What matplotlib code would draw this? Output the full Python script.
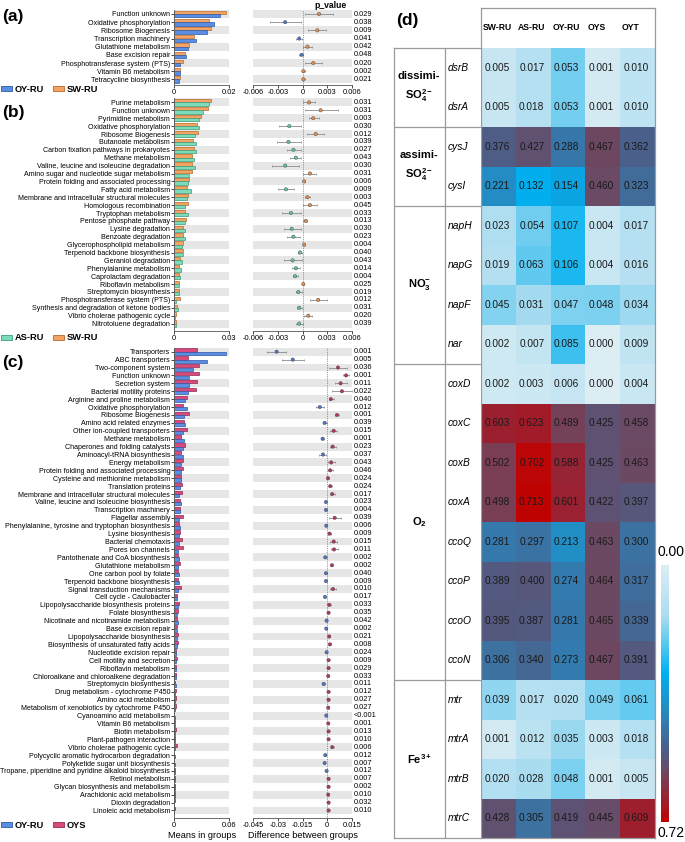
import numpy as np
import matplotlib
matplotlib.use("Agg")
import matplotlib.pyplot as plt
from matplotlib.patches import Patch
from matplotlib.colors import LinearSegmentedColormap, PowerNorm

plt.rcParams['font.family'] = ['Liberation Sans', 'DejaVu Sans']
plt.rcParams['mathtext.fontset'] = 'custom'
plt.rcParams['mathtext.rm'] = 'Liberation Sans'
plt.rcParams['mathtext.it'] = 'Liberation Sans:italic'
plt.rcParams['mathtext.bf'] = 'Liberation Sans:bold'

# ---------------- panel (a): SW-RU vs OY-RU ----------------
a_terms = ["Function unknown", "Oxidative phosphorylation", "Ribosome Biogenesis",
           "Transcription machinery", "Glutathione metabolism", "Base excision repair",
           "Phosphotransferase system (PTS)", "Vitamin B6 metabolism", "Tetracycline biosynthesis"]
a_sw = [0.0187, 0.0125, 0.0135, 0.0073, 0.0052, 0.0040, 0.0033, 0.0019, 0.0019]
a_oy = [0.0165, 0.0145, 0.0118, 0.0078, 0.0048, 0.0041, 0.0021, 0.0019, 0.0017]
a_diff = [0.0020, -0.0021, 0.0018, -0.0004, 0.0006, -0.0001, 0.0013, 0.0001, 0.0001]
a_lo = [0.0003, -0.0039, 0.0007, -0.0008, 0.0001, -0.0004, 0.0003, -0.0001, -0.0001]
a_hi = [0.0037, -0.0002, 0.0029, -0.0001, 0.0012, 0.0001, 0.0024, 0.0003, 0.0003]
a_p = ["0.029", "0.038", "0.009", "0.041", "0.042", "0.048", "0.020", "0.002", "0.021"]

# ---------------- panel (b): SW-RU vs AS-RU ----------------
b_terms = ["Purine metabolism", "Function unknown", "Pyrimidine metabolism",
           "Oxidative phosphorylation", "Ribosome Biogenesis", "Butanoate metabolism",
           "Carbon fixation pathways in prokaryotes", "Methane metabolism",
           "Valine, leucine and isoleucine degradation", "Amino sugar and nucleotide sugar metabolism",
           "Protein folding and associated processing", "Fatty acid metabolism",
           "Membrane and intracellular structural molecules", "Homologous recombination",
           "Tryptophan metabolism", "Pentose phosphate pathway", "Lysine degradation",
           "Benzoate degradation", "Glycerophospholipid metabolism", "Terpenoid backbone biosynthesis",
           "Geraniol degradation", "Phenylalanine metabolism", "Caprolactam degradation",
           "Riboflavin metabolism", "Streptomycin biosynthesis", "Phosphotransferase system (PTS)",
           "Synthesis and degradation of ketone bodies", "Vibrio cholerae pathogenic cycle",
           "Nitrotoluene degradation"]
b_sw = [0.0202, 0.0182, 0.0147, 0.0122, 0.0129, 0.0100, 0.0105, 0.0098, 0.0095, 0.0095,
        0.0078, 0.0071, 0.0073, 0.0073, 0.0060, 0.0062, 0.0049, 0.0047, 0.0045, 0.0045,
        0.0033, 0.0027, 0.0024, 0.0025, 0.0025, 0.0029, 0.0015, 0.0009, 0.0007]
b_as = [0.0191, 0.0158, 0.0133, 0.0136, 0.0111, 0.0116, 0.0116, 0.0107, 0.0111, 0.0082,
        0.0076, 0.0089, 0.0067, 0.0060, 0.0073, 0.0058, 0.0060, 0.0056, 0.0042, 0.0049,
        0.0044, 0.0036, 0.0029, 0.0024, 0.0025, 0.0007, 0.0018, 0.0005, 0.0007]
b_diff = [0.0008, 0.0022, 0.0013, -0.0016, 0.0016, -0.0017, -0.0011, -0.0008, -0.0021, 0.0009,
          0.0002, -0.0020, 0.0006, 0.0009, -0.0014, 0.0004, -0.0013, -0.0011, 0.0002, -0.0003,
          -0.0012, -0.0008, -0.0009, 0.0001, -0.0005, 0.0019, -0.0004, 0.0007, -0.0004]
b_lo = [0.0001, 0.0003, 0.0008, -0.0029, 0.0005, -0.0031, -0.0019, -0.0015, -0.0037, 0.0001,
        0.0000, -0.0030, 0.0003, 0.0000, -0.0025, 0.0001, -0.0023, -0.0019, 0.0000, -0.0006,
        -0.0023, -0.0013, -0.0012, 0.0000, -0.0008, 0.0009, -0.0007, 0.0002, -0.0008]
b_hi = [0.0015, 0.0043, 0.0020, -0.0002, 0.0026, -0.0002, -0.0002, -0.0002, -0.0004, 0.0016,
        0.0003, -0.0010, 0.0009, 0.0018, -0.0002, 0.0006, -0.0002, -0.0003, 0.0003, -0.0001,
        -0.0001, -0.0003, -0.0005, 0.0002, -0.0001, 0.0030, -0.0001, 0.0012, 0.0000]
b_p = ["0.031", "0.031", "0.003", "0.030", "0.012", "0.039", "0.027", "0.043", "0.030", "0.031",
       "0.006", "0.009", "0.003", "0.045", "0.033", "0.013", "0.030", "0.023", "0.004", "0.040",
       "0.043", "0.014", "0.004", "0.025", "0.019", "0.012", "0.031", "0.020", "0.039"]

# ---------------- panel (c): OYS vs OY-RU ----------------
c_terms = ["Transporters", "ABC transporters", "Two-component system", "Function unknown",
           "Secretion system", "Bacterial motility proteins", "Arginine and proline metabolism",
           "Oxidative phosphorylation", "Ribosome Biogenesis", "Amino acid related enzymes",
           "Other ion-coupled transporters", "Methane metabolism", "Chaperones and folding catalysts",
           "Aminoacyl-tRNA biosynthesis", "Energy metabolism", "Protein folding and associated processing",
           "Cysteine and methionine metabolism", "Translation proteins",
           "Membrane and intracellular structural molecules", "Valine, leucine and isoleucine biosynthesis",
           "Transcription machinery", "Flagellar assembly",
           "Phenylalanine, tyrosine and tryptophan biosynthesis", "Lysine biosynthesis",
           "Bacterial chemotaxis", "Pores ion channels", "Pantothenate and CoA biosynthesis",
           "Glutathione metabolism", "One carbon pool by folate", "Terpenoid backbone biosynthesis",
           "Signal transduction mechanisms", "Cell cycle - Caulobacter",
           "Lipopolysaccharide biosynthesis proteins", "Folate biosynthesis",
           "Nicotinate and nicotinamide metabolism", "Base excision repair",
           "Lipopolysaccharide biosynthesis", "Biosynthesis of unsaturated fatty acids",
           "Nucleotide excision repair", "Cell motility and secretion", "Riboflavin metabolism",
           "Chloroalkane and chloroalkene degradation", "Streptomycin biosynthesis",
           "Drug metabolism - cytochrome P450", "Amino acid metabolism",
           "Metabolism of xenobiotics by cytochrome P450", "Cyanoamino acid metabolism",
           "Vitamin B6 metabolism", "Biotin metabolism", "Plant-pathogen interaction",
           "Vibrio cholerae pathogenic cycle", "Polycyclic aromatic hydrocarbon degradation",
           "Polyketide sugar unit biosynthesis", "Tropane, piperidine and pyridine alkaloid biosynthesis",
           "Retinol metabolism", "Glycan biosynthesis and metabolism", "Arachidonic acid metabolism",
           "Dioxin degradation", "Linoleic acid metabolism"]
c_oys = [0.0251, 0.0145, 0.0265, 0.0265, 0.0244, 0.0233, 0.0135, 0.0091, 0.0164, 0.0105,
         0.0135, 0.0069, 0.0116, 0.0069, 0.0095, 0.0091, 0.0073, 0.0084, 0.0084, 0.0062,
         0.0058, 0.0091, 0.0051, 0.0065, 0.0087, 0.0091, 0.0036, 0.0065, 0.0044, 0.0036,
         0.0069, 0.0025, 0.0051, 0.0036, 0.0033, 0.0029, 0.0036, 0.0036, 0.0018, 0.0025,
         0.0022, 0.0022, 0.0004, 0.0018, 0.0018, 0.0015, 0.0002, 0.0011, 0.0015, 0.0011,
         0.0025, 0.0002, 0.0002, 0.0004, 0.0011, 0.0011, 0.0007, 0.0007, 0.0007]
c_oy = [0.0560, 0.0353, 0.0200, 0.0156, 0.0164, 0.0145, 0.0116, 0.0135, 0.0105, 0.0120,
        0.0095, 0.0102, 0.0091, 0.0091, 0.0069, 0.0073, 0.0069, 0.0065, 0.0055, 0.0069,
        0.0062, 0.0051, 0.0058, 0.0051, 0.0051, 0.0044, 0.0051, 0.0040, 0.0047, 0.0047,
        0.0036, 0.0033, 0.0040, 0.0033, 0.0036, 0.0033, 0.0025, 0.0025, 0.0022, 0.0018,
        0.0015, 0.0015, 0.0018, 0.0011, 0.0011, 0.0007, 0.0011, 0.0007, 0.0007, 0.0004,
        0.0004, 0.0007, 0.0011, 0.0007, 0.0004, 0.0004, 0.0004, 0.0002, 0.0002]
c_diff = [-0.0307, -0.0209, 0.0065, 0.0114, 0.0081, 0.0089, 0.0022, -0.0045, 0.0059, -0.0016,
          0.0039, -0.0028, 0.0033, -0.0026, 0.0024, 0.0018, 0.0004, 0.0018, 0.0030, -0.0008,
          -0.0008, 0.0045, -0.0006, 0.0014, 0.0039, 0.0041, -0.0012, 0.0028, -0.0008, -0.0008,
          0.0035, -0.0014, 0.0012, 0.0008, -0.0004, -0.0006, 0.0012, 0.0016, -0.0004, 0.0008,
          0.0008, 0.0006, -0.0022, 0.0008, 0.0008, 0.0006, -0.0006, 0.0006, 0.0008, 0.0008,
          0.0030, -0.0012, -0.0016, -0.0004, 0.0008, 0.0008, 0.0006, 0.0008, 0.0008]
c_lo = [-0.0364, -0.0272, 0.0010, 0.0093, 0.0047, 0.0030, 0.0008, -0.0067, 0.0049, -0.0028,
        0.0018, -0.0037, 0.0016, -0.0049, 0.0006, 0.0004, -0.0002, 0.0008, 0.0014, -0.0012,
        -0.0012, 0.0008, -0.0010, 0.0004, 0.0018, 0.0020, -0.0020, 0.0022, -0.0012, -0.0012,
        0.0018, -0.0018, 0.0004, 0.0004, -0.0008, -0.0010, 0.0006, 0.0010, -0.0008, 0.0004,
        0.0004, 0.0002, -0.0032, 0.0004, 0.0004, 0.0002, -0.0010, 0.0002, 0.0004, 0.0004,
        0.0020, -0.0016, -0.0020, -0.0008, 0.0004, 0.0004, 0.0002, 0.0004, 0.0004]
c_hi = [-0.0248, -0.0140, 0.0122, 0.0134, 0.0122, 0.0150, 0.0041, -0.0022, 0.0069, -0.0004,
        0.0059, -0.0020, 0.0051, -0.0006, 0.0045, 0.0033, 0.0010, 0.0028, 0.0047, -0.0004,
        -0.0004, 0.0081, -0.0002, 0.0024, 0.0059, 0.0065, -0.0004, 0.0034, -0.0004, -0.0004,
        0.0051, -0.0010, 0.0022, 0.0012, 0.0000, -0.0002, 0.0018, 0.0022, 0.0000, 0.0012,
        0.0012, 0.0010, -0.0012, 0.0012, 0.0012, 0.0010, -0.0002, 0.0010, 0.0012, 0.0012,
        0.0040, -0.0008, -0.0012, 0.0000, 0.0012, 0.0012, 0.0010, 0.0012, 0.0012]
c_p = ["0.001", "0.005", "0.036", "0.001", "0.011", "0.022", "0.040", "0.012", "0.001", "0.039",
       "0.015", "0.001", "0.023", "0.037", "0.043", "0.046", "0.024", "0.024", "0.017", "0.023",
       "0.004", "0.039", "0.006", "0.009", "0.015", "0.011", "0.002", "0.002", "0.040", "0.009",
       "0.010", "0.017", "0.033", "0.035", "0.042", "0.002", "0.021", "0.008", "0.024", "0.009",
       "0.029", "0.033", "0.011", "0.012", "0.027", "0.027", "<0.001", "0.001", "0.013", "0.010",
       "0.006", "0.012", "0.007", "0.012", "0.007", "0.002", "0.010", "0.032", "0.010"]

ab_ticks = [-0.006, -0.003, 0, 0.003, 0.006]
ab_ticklabels = ["-0.006", "-0.003", "0", "0.003", "0.006"]
c_ticks = [-0.045, -0.03, -0.015, 0, 0.015]
c_ticklabels = ["-0.045", "-0.03", "-0.015", "0", "0.015"]

# ---------------- panel (d): heatmap ----------------
hm_cols = ["SW-RU", "AS-RU", "OY-RU", "OYS", "OYT"]
hm_genes = ["dsrB", "dsrA", "cysJ", "cysI", "napH", "napG", "napF", "nar", "coxD", "coxC",
            "coxB", "coxA", "ccoQ", "ccoP", "ccoO", "ccoN", "mtr", "mtrA", "mtrB", "mtrC"]
hm_values = [
    [0.005, 0.017, 0.053, 0.001, 0.010],
    [0.005, 0.018, 0.053, 0.001, 0.010],
    [0.376, 0.427, 0.288, 0.467, 0.362],
    [0.221, 0.132, 0.154, 0.460, 0.323],
    [0.023, 0.054, 0.107, 0.004, 0.017],
    [0.019, 0.063, 0.106, 0.004, 0.016],
    [0.045, 0.031, 0.047, 0.048, 0.034],
    [0.002, 0.007, 0.085, 0.000, 0.009],
    [0.002, 0.003, 0.006, 0.000, 0.004],
    [0.603, 0.623, 0.489, 0.425, 0.458],
    [0.502, 0.702, 0.588, 0.425, 0.463],
    [0.498, 0.713, 0.601, 0.422, 0.397],
    [0.281, 0.297, 0.213, 0.463, 0.300],
    [0.389, 0.400, 0.274, 0.464, 0.317],
    [0.395, 0.387, 0.281, 0.465, 0.339],
    [0.306, 0.340, 0.273, 0.467, 0.391],
    [0.039, 0.017, 0.020, 0.049, 0.061],
    [0.001, 0.012, 0.035, 0.003, 0.018],
    [0.020, 0.028, 0.048, 0.001, 0.005],
    [0.428, 0.305, 0.419, 0.445, 0.609],
]
hm_groups = ["dissimi-\n$\\mathbf{SO_4^{2-}}$", "assimi-\n$\\mathbf{SO_4^{2-}}$",
             "$\\mathbf{NO_3^{-}}$", "$\\mathbf{O_2}$", "$\\mathbf{Fe^{3+}}$"]
hm_group_sizes = [2, 2, 4, 8, 4]
hm_vmin, hm_vmax = 0.0, 0.72

W, H = 685, 842
fig = plt.figure(figsize=(W / 100, H / 100), dpi=100)


def box(x0, y0, x1, y1):
    return fig.add_axes([x0 / W, 1 - y1 / H, (x1 - x0) / W, (y1 - y0) / H])


BLUE = ("#5a8ee4", "#2f57a5", "#4a78c8")
ORANGE = ("#f4a363", "#b56a2a", "#e58d4b")
GREEN = ("#7ddbb9", "#3b9c7a", "#5cc4a0")
PINK = ("#d84a7e", "#962952", "#b8345f")
STRIPE = "#e6e6e6"


def draw_panel(terms, v_top, v_bot, diff, lo, hi, pvals, c_top, c_bot, n_top, n_bot,
               xmax, dlim, dticks, dticklabels, first, step, spine, leg_y):
    n = len(terms)
    y = np.arange(n)
    ybot = (spine - first) / step
    y0 = first - step / 2

    ax = box(174.3, y0, 229.3, spine)
    for i in range(0, n, 2):
        ax.axhspan(i - 0.5, i + 0.5, color=STRIPE, lw=0, zorder=0)
    ax.barh(y - 0.21, v_top, height=0.40, color=c_top[0], edgecolor=c_top[1], lw=0.5, zorder=2)
    ax.barh(y + 0.21, v_bot, height=0.40, color=c_bot[0], edgecolor=c_bot[1], lw=0.5, zorder=2)
    ax.set_xlim(0, xmax)
    ax.set_ylim(ybot, -0.5)
    ax.set_yticks(y)
    ax.set_yticklabels(terms, fontsize=5.1)
    ax.set_xticks([0, xmax])
    ax.set_xticklabels(["0", f"{xmax:g}"], fontsize=5.4)
    ax.tick_params(axis='y', length=2, width=0.5, pad=1)
    ax.tick_params(axis='x', length=2, width=0.5, pad=1)
    for s in ["top", "right"]:
        ax.spines[s].set_visible(False)
    for s in ["left", "bottom"]:
        ax.spines[s].set_linewidth(0.6)
        ax.spines[s].set_color("#555555")

    ad = box(253, y0, 352, spine)
    for i in range(0, n, 2):
        ad.axhspan(i - 0.5, i + 0.5, color=STRIPE, lw=0, zorder=0)
    ad.axvline(0, color="#777777", ls=(0, (1, 1.2)), lw=0.6, zorder=1)
    d = np.array(diff)
    err = np.vstack([d - np.array(lo), np.array(hi) - d])
    ad.errorbar(d, y, xerr=err, fmt="none", ecolor="#8a8a8a", elinewidth=0.6,
                capsize=0.8, capthick=0.5, zorder=2)
    cols = [c_top[2] if v > 0 else c_bot[2] for v in diff]
    ad.scatter(d, y, s=6, c=cols, edgecolors="#444444", linewidths=0.3, zorder=3)
    ad.set_xlim(*dlim)
    ad.set_ylim(ybot, -0.5)
    ad.set_yticks([])
    ad.set_xticks(dticks)
    ad.set_xticklabels(dticklabels, fontsize=5.4)
    ad.tick_params(axis='x', length=2, width=0.5, pad=1)
    for s in ["top", "right", "left"]:
        ad.spines[s].set_visible(False)
    ad.spines["bottom"].set_linewidth(0.6)
    ad.spines["bottom"].set_color("#555555")
    for i, p in enumerate(pvals):
        ad.text(1.02, i, p, transform=ad.get_yaxis_transform(), fontsize=5.3,
                va="center", ha="left")

    handles = [Patch(facecolor=c_bot[0], edgecolor=c_bot[1], lw=0.6, label=n_bot),
               Patch(facecolor=c_top[0], edgecolor=c_top[1], lw=0.6, label=n_top)]
    fig.legend(handles=handles, loc="center left", bbox_to_anchor=(1 / W, 1 - leg_y / H),
               ncol=2, frameon=False, prop={"size": 6.7, "weight": "bold"},
               handlelength=1.2, handleheight=0.45, handletextpad=0.3,
               columnspacing=0.9, borderaxespad=0, borderpad=0)
    return ax, ad


draw_panel(a_terms, a_sw, a_oy, a_diff, a_lo, a_hi, a_p, ORANGE, BLUE, "SW-RU", "OY-RU",
           0.02, (-0.006, 0.006), ab_ticks, ab_ticklabels, 14.0, 8.17, 85.0, 89.5)
draw_panel(b_terms, b_sw, b_as, b_diff, b_lo, b_hi, b_p, ORANGE, GREEN, "SW-RU", "AS-RU",
           0.03, (-0.006, 0.006), ab_ticks, ab_ticklabels, 102.4, 7.9, 330.7, 338)
draw_panel(c_terms, c_oys, c_oy, c_diff, c_lo, c_hi, c_p, PINK, BLUE, "OYS", "OY-RU",
           0.06, (-0.045, 0.015), c_ticks, c_ticklabels, 351.7, 7.91, 817.7, 825)

fig.text(331 / W, 1 - 5 / H, "p_value", fontsize=6.2, weight="bold", ha="center", va="center")
fig.text(201.8 / W, 1 - 836 / H, "Means in groups", fontsize=6.6, ha="center", va="center")
fig.text(302.5 / W, 1 - 836 / H, "Difference between groups", fontsize=6.6, ha="center", va="center")
for lab, yy in [("(a)", 17), ("(b)", 113), ("(c)", 363)]:
    fig.text(2 / W, 1 - yy / H, lab, fontsize=12.5, weight="bold", ha="left", va="center")
fig.text(396 / W, 1 - 21 / H, "(d)", fontsize=12.5, weight="bold", ha="left", va="center")

# ---------------- heatmap drawing ----------------
cmap = LinearSegmentedColormap.from_list("hm", [
    (0.00, "#dcedf4"), (0.20, "#a9dcf0"), (0.42, "#00b0f0"), (0.60, "#2f7fb4"),
    (0.72, "#4d5d86"), (0.80, "#6a4a64"), (0.87, "#883044"), (0.93, "#a01c2a"),
    (1.00, "#c00000")])
norm = PowerNorm(gamma=0.5, vmin=hm_vmin, vmax=hm_vmax)

nrow = len(hm_genes)
ncol = len(hm_cols)
hdr = 40 / 39.5
vals = np.array(hm_values)
LINE = "#9a9a9a"

ah = box(481, 8, 655, 838)
mesh = ah.pcolormesh(np.arange(ncol + 1), np.arange(nrow + 1), vals, cmap=cmap, norm=norm)
ah.set_xlim(0, ncol)
ah.set_ylim(nrow, -hdr)
ah.set_xticks([])
ah.set_yticks([])
for s in ah.spines.values():
    s.set_color(LINE)
    s.set_linewidth(0.9)
for j, c in enumerate(hm_cols):
    ah.text(j + 0.05, -hdr / 2, c, fontsize=6.2, weight="bold", ha="left", va="center")
for i in range(nrow):
    for j in range(ncol):
        ah.text(j + 0.46, i + 0.5, f"{vals[i, j]:.3f}", fontsize=7.3, ha="center",
                va="center", color="#1a1a1a")

at = box(394, 48, 481, 838)
at.set_xlim(0, 1)
at.set_ylim(nrow, 0)
at.set_xticks([])
at.set_yticks([])
at.spines["right"].set_visible(False)
for s in ["left", "top", "bottom"]:
    at.spines[s].set_color(LINE)
    at.spines[s].set_linewidth(0.9)
xsplit = (445 - 394) / 87
at.axvline(xsplit, color=LINE, lw=0.9)
start = 0
for g, size in zip(hm_groups, hm_group_sizes):
    end = start + size
    if end < nrow:
        at.axhline(end, color=LINE, lw=0.9)
    at.text(0.29, (start + end) / 2, g, fontsize=8, weight="bold", ha="center",
            va="center", linespacing=1.5)
    start = end
for i, gname in enumerate(hm_genes):
    at.text(xsplit + 0.03, i + 0.5, gname, fontsize=7.4, style="italic", ha="left", va="center")

cax = box(661, 565, 669, 822)
cb = fig.colorbar(mesh, cax=cax)
cb.outline.set_visible(False)
cax.invert_yaxis()
cax.set_yticks([])
cax.minorticks_off()
fig.text(671.5 / W, 1 - 552 / H, f"{hm_vmin:.2f}", fontsize=10, ha="center", va="center")
fig.text(671.5 / W, 1 - 833 / H, f"{hm_vmax:.2f}", fontsize=10, ha="center", va="center")

fig.savefig("out.png", dpi=100)
